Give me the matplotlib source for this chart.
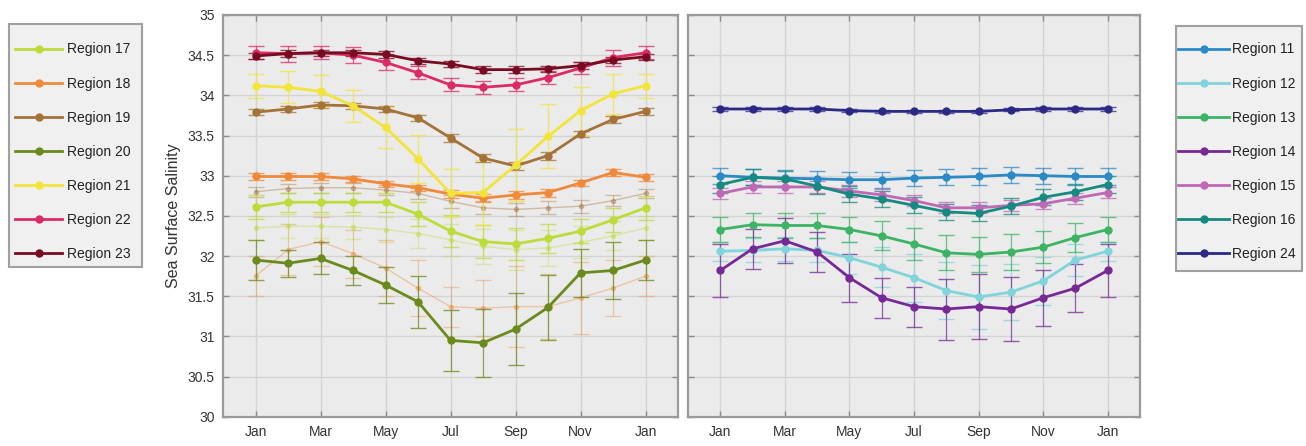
import matplotlib
matplotlib.use("Agg")
import matplotlib.pyplot as plt
from matplotlib.patches import Rectangle

plt.rcParams['font.family'] = ['Liberation Sans', 'DejaVu Sans']

months = list(range(13))
tick_pos = [0, 2, 4, 6, 8, 10, 12]
tick_labels = ['Jan', 'Mar', 'May', 'Jul', 'Sep', 'Nov', 'Jan']
y_ticks = [30, 30.5, 31, 31.5, 32, 32.5, 33, 33.5, 34, 34.5, 35]
y_tick_labels = ['30', '30.5', '31', '31.5', '32', '32.5', '33', '33.5', '34', '34.5', '35']

# ---- left panel series ----
r17 = [32.61, 32.67, 32.67, 32.67, 32.67, 32.52, 32.31, 32.18, 32.15, 32.22, 32.31, 32.45, 32.60]
r18 = [32.99, 32.99, 32.99, 32.96, 32.90, 32.85, 32.77, 32.72, 32.76, 32.79, 32.91, 33.04, 32.98]
r19 = [33.79, 33.83, 33.88, 33.87, 33.83, 33.72, 33.47, 33.22, 33.12, 33.25, 33.52, 33.70, 33.80]
r20 = [31.95, 31.91, 31.97, 31.82, 31.64, 31.43, 30.95, 30.92, 31.09, 31.36, 31.79, 31.82, 31.95]
r21 = [34.12, 34.10, 34.05, 33.87, 33.60, 33.21, 32.78, 32.79, 33.13, 33.49, 33.81, 34.02, 34.12]
r22 = [34.53, 34.52, 34.53, 34.50, 34.41, 34.28, 34.13, 34.10, 34.13, 34.22, 34.34, 34.47, 34.53]
r23 = [34.49, 34.52, 34.53, 34.53, 34.51, 34.43, 34.39, 34.32, 34.32, 34.33, 34.37, 34.44, 34.48]

e17 = [0.15, 0.12, 0.12, 0.12, 0.12, 0.15, 0.20, 0.20, 0.20, 0.18, 0.15, 0.15, 0.15]
e18 = [0.04, 0.04, 0.04, 0.04, 0.04, 0.04, 0.05, 0.05, 0.05, 0.05, 0.04, 0.04, 0.04]
e19 = [0.04, 0.04, 0.04, 0.04, 0.04, 0.04, 0.05, 0.05, 0.05, 0.05, 0.04, 0.04, 0.04]
e20 = [0.25, 0.17, 0.20, 0.18, 0.22, 0.32, 0.38, 0.42, 0.45, 0.40, 0.30, 0.35, 0.25]
e21 = [0.15, 0.20, 0.20, 0.20, 0.25, 0.30, 0.30, 0.40, 0.45, 0.40, 0.30, 0.25, 0.15]
e22 = [0.08, 0.10, 0.08, 0.10, 0.10, 0.08, 0.08, 0.08, 0.08, 0.08, 0.08, 0.10, 0.08]
e23 = [0.04] * 13

# faint (unlabelled) series in the left panel
fa = [32.80, 32.84, 32.85, 32.85, 32.82, 32.78, 32.68, 32.60, 32.58, 32.60, 32.62, 32.69, 32.78]
fb = [31.75, 32.08, 32.18, 32.03, 31.85, 31.60, 31.37, 31.35, 31.37, 31.37, 31.48, 31.60, 31.75]
fc = [32.35, 32.37, 32.37, 32.36, 32.33, 32.28, 32.20, 32.12, 32.08, 32.10, 32.17, 32.25, 32.35]
efa = [0.06, 0.06, 0.06, 0.06, 0.06, 0.07, 0.08, 0.08, 0.08, 0.08, 0.08, 0.07, 0.06]
efb = [0.25, 0.32, 0.30, 0.30, 0.35, 0.35, 0.25, 0.35, 0.50, 0.40, 0.45, 0.35, 0.25]
efc = [0.15, 0.15, 0.15, 0.15, 0.15, 0.18, 0.20, 0.22, 0.25, 0.22, 0.20, 0.18, 0.15]

# ---- right panel series ----
r11 = [33.00, 32.98, 32.97, 32.96, 32.95, 32.95, 32.97, 32.98, 32.99, 33.01, 33.00, 32.99, 32.99]
r12 = [32.06, 32.07, 32.09, 32.07, 31.98, 31.86, 31.73, 31.57, 31.49, 31.55, 31.69, 31.95, 32.06]
r13 = [32.33, 32.39, 32.38, 32.38, 32.33, 32.25, 32.15, 32.04, 32.02, 32.05, 32.11, 32.23, 32.33]
r14 = [31.82, 32.09, 32.19, 32.05, 31.73, 31.48, 31.37, 31.34, 31.37, 31.34, 31.48, 31.60, 31.82]
r15 = [32.78, 32.86, 32.86, 32.86, 32.81, 32.76, 32.69, 32.60, 32.60, 32.63, 32.65, 32.72, 32.79]
r16 = [32.89, 32.98, 32.96, 32.87, 32.77, 32.71, 32.63, 32.55, 32.53, 32.62, 32.73, 32.80, 32.89]
r24 = [33.83, 33.83, 33.83, 33.83, 33.81, 33.80, 33.80, 33.80, 33.80, 33.82, 33.83, 33.83, 33.83]

e11 = [0.10] * 13
e12 = [0.12, 0.15, 0.15, 0.15, 0.20, 0.25, 0.30, 0.35, 0.40, 0.35, 0.30, 0.20, 0.12]
e13 = [0.15, 0.15, 0.15, 0.15, 0.15, 0.18, 0.20, 0.22, 0.22, 0.22, 0.20, 0.18, 0.15]
e14 = [0.33, 0.25, 0.28, 0.25, 0.30, 0.25, 0.25, 0.38, 0.40, 0.40, 0.35, 0.30, 0.33]
e15 = [0.07] * 13
e16 = [0.10] * 13
e24 = [0.02] * 13

left_series = [
    ('Region 17', r17, e17, '#bcdc3a'),
    ('Region 18', r18, e18, '#f08a3a'),
    ('Region 19', r19, e19, '#a57238'),
    ('Region 20', r20, e20, '#6a8a1c'),
    ('Region 21', r21, e21, '#f3e43a'),
    ('Region 22', r22, e22, '#dc2a66'),
    ('Region 23', r23, e23, '#780a22'),
]
faint_series = [
    (fa, efa, '#a57238'),
    (fb, efb, '#f08a3a'),
    (fc, efc, '#bcdc3a'),
]
right_series = [
    ('Region 11', r11, e11, '#2a8ac6'),
    ('Region 12', r12, e12, '#80d4dc'),
    ('Region 13', r13, e13, '#3cb464'),
    ('Region 14', r14, e14, '#782896'),
    ('Region 15', r15, e15, '#c068b6'),
    ('Region 16', r16, e16, '#148a80'),
    ('Region 24', r24, e24, '#2a2a86'),
]

W, H = 1306, 446
fig = plt.figure(figsize=(W / 100, H / 100), dpi=100)
axL = fig.add_axes([223 / W, 1 - 416.7 / H, 455 / W, 401.7 / H])
axR = fig.add_axes([688 / W, 1 - 416.7 / H, 452 / W, 401.7 / H])

def style(ax, show_ylabels):
    ax.set_facecolor('#ebebeb')
    ax.set_xlim(-1, 13)
    ax.set_ylim(30, 35)
    ax.set_xticks(tick_pos)
    ax.set_xticklabels(tick_labels)
    ax.set_yticks(y_ticks)
    if show_ylabels:
        ax.set_yticklabels(y_tick_labels)
    else:
        ax.set_yticklabels([])
    ax.grid(True, color='#d4d4d4', linewidth=1.0)
    ax.set_axisbelow(True)
    ax.tick_params(direction='in', top=True, right=True, length=4, width=1,
                   color='#8a8a8a', labelcolor='#333333', labelsize=10, pad=6)
    for s in ax.spines.values():
        s.set_color('#9a9a9a')
        s.set_linewidth(1.6)

style(axL, True)
style(axR, False)
axL.set_ylabel('Sea Surface Salinity', fontsize=11.5, color='#333333', labelpad=5)

for vals, errs, c in faint_series:
    axL.errorbar(months, vals, yerr=errs, color=c, alpha=0.4, linewidth=1.0,
                 marker='o', markersize=3, elinewidth=0.8, capsize=6, zorder=2)

def draw(ax, series):
    handles = []
    for name, vals, errs, c in series:
        cont = ax.errorbar(months, vals, yerr=errs, color=c, linewidth=2.0,
                           marker='o', markersize=5, elinewidth=0.9, capsize=6,
                           ecolor=c, label=name, zorder=3)
        for b in cont[2]:
            b.set_alpha(0.75)
        for cp in cont[1]:
            cp.set_alpha(0.75)
        handles.append(cont[0])
    return handles

hL = draw(axL, left_series)
hR = draw(axR, right_series)

# legend frames drawn as figure patches
for (x0, y0, x1, y1) in [(9, 24, 142, 267), (1176, 26, 1302, 271)]:
    fig.patches.append(Rectangle((x0 / W, 1 - y1 / H), (x1 - x0) / W, (y1 - y0) / H,
                                 transform=fig.transFigure, facecolor='#f0f0f0',
                                 edgecolor='#a0a0a0', linewidth=1.5, zorder=0))

leg_kw = dict(loc='upper left', borderaxespad=0, fontsize=10, borderpad=0,
              labelspacing=1.45, numpoints=1, frameon=False)
legL = fig.legend(hL, [s[0] for s in left_series], handlelength=3.4, handletextpad=0.36,
                  bbox_to_anchor=(15 / W, 1 - 42.5 / H), **leg_kw)
legR = fig.legend(hR, [s[0] for s in right_series], handlelength=3.7, handletextpad=0.22,
                  bbox_to_anchor=(1178 / W, 1 - 42.5 / H), **leg_kw)
for lg in (legL, legR):
    for t in lg.get_texts():
        t.set_color('#222222')

fig.savefig('out.png', dpi=100, facecolor='white')
